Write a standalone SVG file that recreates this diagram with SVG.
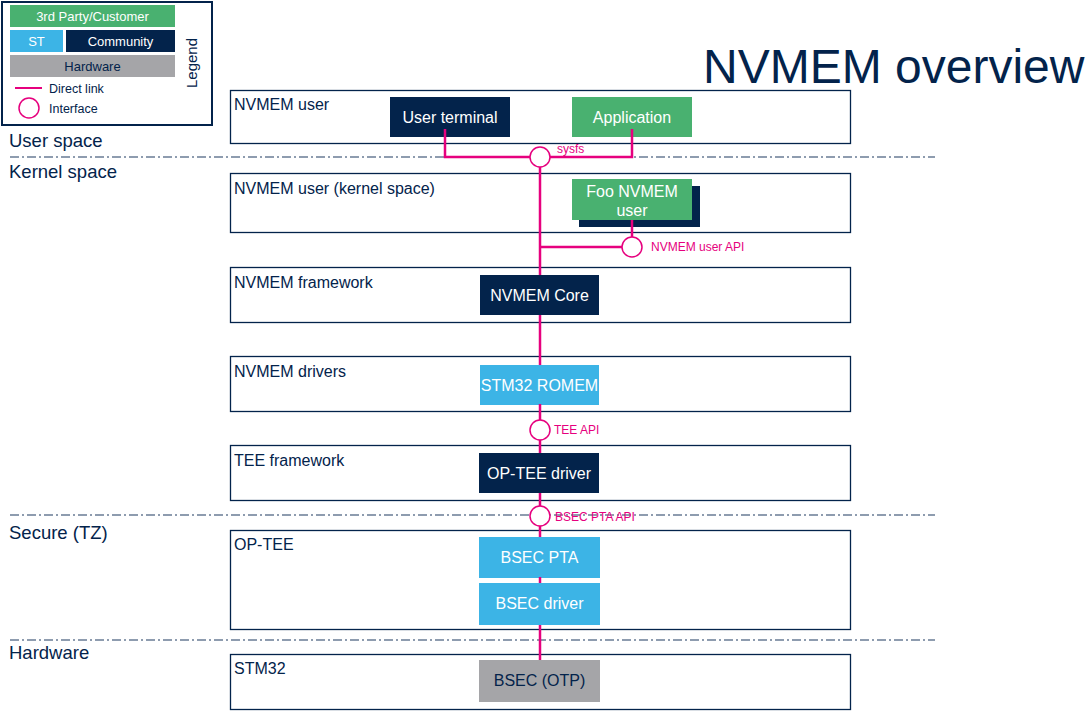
<svg xmlns="http://www.w3.org/2000/svg" width="1091" height="720" viewBox="0 0 1091 720">
<defs>
<style>
text{font-family:"Liberation Sans",Arial,sans-serif}
.layer{fill:#fff;stroke:#03234B;stroke-width:1.3}
.ltxt{font-size:16px;fill:#03234B}
.side{font-size:18.5px;fill:#03234B}
.navy{fill:#03234B}
.green{fill:#49B170}
.blue{fill:#3CB4E6}
.gray{fill:#A5A5A8}
.ntxt{font-size:16px;fill:#fff;text-anchor:middle}
.dtxt{font-size:16px;fill:#03234B;text-anchor:middle}
.sep{stroke:#1f3a60;stroke-width:1.2;stroke-dasharray:9 3 2 3;fill:none}
.link{stroke:#E6007E;stroke-width:2.5;fill:none}
.itf{stroke:#E6007E;stroke-width:1.5;fill:#fff}
.ptxt{font-size:12px;fill:#E6007E}
.legt{font-size:13px;fill:#fff;text-anchor:middle}
</style>
</defs>
<rect width="1091" height="720" fill="#fff"/>

<text x="703" y="83" style="font-size:48px;fill:#03234B">NVMEM overview</text>

<g id="legend">
<rect x="2" y="2" width="210" height="123" fill="#fff" stroke="#03234B" stroke-width="2"/>
<rect x="10" y="5" width="165" height="22" class="green"/>
<text x="92.5" y="20.5" class="legt">3rd Party/Customer</text>
<rect x="10" y="30" width="53" height="22" class="blue"/>
<text x="36.5" y="45.5" class="legt">ST</text>
<rect x="66" y="30" width="109" height="22" class="navy"/>
<text x="120.5" y="45.5" class="legt">Community</text>
<rect x="10" y="55" width="165" height="22" class="gray"/>
<text x="92.5" y="70.5" class="legt" style="fill:#03234B">Hardware</text>
<line x1="15" y1="88" x2="42" y2="88" stroke="#E6007E" stroke-width="2"/>
<text x="49" y="93" style="font-size:12.5px;fill:#03234B">Direct link</text>
<circle cx="29" cy="108" r="10" class="itf"/>
<text x="49" y="113" style="font-size:12.5px;fill:#03234B">Interface</text>
<text transform="translate(197,63) rotate(-90)" text-anchor="middle" style="font-size:15px;fill:#03234B">Legend</text>
</g>

<g id="separators">
<line x1="10" y1="157" x2="935" y2="157" class="sep"/>
<line x1="10" y1="515" x2="935" y2="515" class="sep"/>
<line x1="10" y1="640" x2="935" y2="640" class="sep"/>
<text x="9" y="147" class="side">User space</text>
<text x="9" y="178" class="side">Kernel space</text>
<text x="9" y="539" class="side">Secure (TZ)</text>
<text x="9" y="659" class="side">Hardware</text>
</g>

<g id="layer-user">
<rect x="230.5" y="90.5" width="620" height="53" class="layer"/>
<text x="234" y="110" class="ltxt">NVMEM user</text>
</g>
<g id="layer-kernel-user">
<rect x="230.5" y="173.5" width="620" height="59" class="layer"/>
<text x="234" y="194" class="ltxt">NVMEM user (kernel  space)</text>
</g>
<g id="layer-framework">
<rect x="230.5" y="267.5" width="620" height="55" class="layer"/>
<text x="234" y="288" class="ltxt">NVMEM framework</text>
</g>
<g id="layer-drivers">
<rect x="230.5" y="356.5" width="620" height="55" class="layer"/>
<text x="234" y="377" class="ltxt">NVMEM drivers</text>
</g>
<g id="layer-tee">
<rect x="230.5" y="445.5" width="620" height="55" class="layer"/>
<text x="234" y="466" class="ltxt">TEE framework</text>
</g>
<g id="layer-optee">
<rect x="230.5" y="530.5" width="620" height="99" class="layer"/>
<text x="234" y="550" class="ltxt">OP-TEE</text>
</g>
<g id="layer-stm32">
<rect x="230.5" y="654.5" width="620" height="55" class="layer"/>
<text x="234" y="674" class="ltxt">STM32</text>
</g>

<g id="user-terminal">
<rect x="390" y="97" width="120" height="40" class="navy"/>
<text x="450" y="123" class="ntxt">User terminal</text>
</g>
<g id="application">
<rect x="572" y="97" width="120" height="40" class="green"/>
<text x="632" y="123" class="ntxt">Application</text>
</g>
<g id="foo-nvmem-user">
<rect x="579" y="186" width="121" height="41" class="navy"/>
<rect x="572" y="179" width="120" height="41" class="green"/>
<text x="632" y="197" class="ntxt">Foo NVMEM</text>
<text x="632" y="215.5" class="ntxt">user</text>
</g>
<g id="nvmem-core">
<rect x="480" y="275" width="119" height="40" class="navy"/>
<text x="539.5" y="301" class="ntxt">NVMEM Core</text>
</g>
<g id="stm32-romem">
<rect x="480" y="365" width="119" height="40" class="blue"/>
<text x="539.5" y="391" class="ntxt">STM32 ROMEM</text>
</g>
<g id="optee-driver">
<rect x="479" y="453" width="120" height="40" class="navy"/>
<text x="539" y="479" class="ntxt">OP-TEE driver</text>
</g>
<g id="bsec-pta">
<rect x="479" y="537" width="121" height="41" class="blue"/>
<text x="539.5" y="563" class="ntxt">BSEC PTA</text>
</g>
<g id="bsec-driver">
<rect x="479" y="583" width="121" height="42" class="blue"/>
<text x="539.5" y="609" class="ntxt">BSEC driver</text>
</g>
<g id="bsec-otp">
<rect x="479" y="660" width="121" height="42" class="gray"/>
<text x="539.5" y="686" class="dtxt">BSEC (OTP)</text>
</g>

<g id="connectors">
<polyline points="445,129 445,157 530,157" class="link"/>
<polyline points="632,129 632,157 550,157" class="link"/>
<line x1="540" y1="167" x2="540" y2="275" class="link"/>
<line x1="540" y1="247" x2="622" y2="247" class="link"/>
<line x1="632" y1="220" x2="632" y2="237" class="link"/>
<line x1="540" y1="315" x2="540" y2="365" class="link"/>
<line x1="540" y1="404" x2="540" y2="453" class="link"/>
<line x1="540" y1="493" x2="540" y2="537" class="link"/>
<line x1="540" y1="577" x2="540" y2="583" class="link"/>
<line x1="540" y1="625" x2="540" y2="660" class="link"/>
<circle cx="540" cy="157" r="10" class="itf"/>
<text x="557" y="153" class="ptxt">sysfs</text>
<circle cx="632" cy="247" r="10" class="itf"/>
<text x="651" y="251" class="ptxt">NVMEM  user API</text>
<circle cx="540" cy="430" r="10" class="itf"/>
<text x="554" y="434" class="ptxt">TEE API</text>
<circle cx="540" cy="516" r="10" class="itf"/>
<text x="555" y="521" class="ptxt">BSEC PTA API</text>
</g>
</svg>
